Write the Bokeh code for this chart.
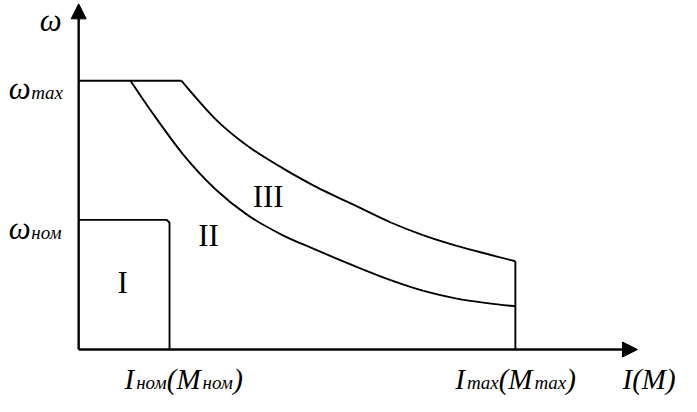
from bokeh.plotting import figure
from bokeh.models import Range1d, ColumnDataSource, Arrow, NormalHead, Label
from bokeh.embed import file_html
from bokeh.resources import INLINE

# ---- data (normalised units: I / I_nom, omega / omega_nom) ----
I_NOM = 1.0
W_NOM = 1.0
I_MAX = 4.806
W_MAX = 2.074
I_AXIS_END = 6.15
W_AXIS_END = 2.667

# zone II boundary
zone2_I = [0.570, 0.785, 1.151, 1.505, 1.860, 2.226, 2.581, 3.086, 3.441, 3.796, 4.161, 4.516, 4.806]
zone2_w = [2.074, 1.852, 1.504, 1.237, 1.037, 0.889, 0.778, 0.630, 0.533, 0.452, 0.393, 0.356, 0.333]
# zone III boundary
zone3_I = [1.129, 1.505, 1.860, 2.226, 2.581, 3.086, 3.441, 3.796, 4.161, 4.516, 4.806]
zone3_w = [2.074, 1.778, 1.570, 1.407, 1.267, 1.096, 0.978, 0.881, 0.800, 0.733, 0.681]

zone_labels = ["I", "II", "III"]
zone_label_I = [0.484, 1.430, 2.086]
zone_label_w = [0.519, 0.881, 1.178]

# ---- figure ----
W_PX, H_PX = 681, 396
SX, SY = 681 / 697, 0.960
PX_PER_I = 93.0 * SX
PX_PER_W = 135.0 * SY
x0 = -80.0 * SX / PX_PER_I
y1 = 349.0 / PX_PER_W
p = figure(width=W_PX, height=H_PX, output_backend="svg", toolbar_location=None,
           x_range=Range1d(x0, x0 + W_PX / PX_PER_I),
           y_range=Range1d(y1 - H_PX / PX_PER_W, y1),
           min_border=0, outline_line_color=None)
p.xaxis.visible = False
p.yaxis.visible = False
p.grid.visible = False
p.background_fill_color = "white"
p.border_fill_color = "white"

LW = 1.9
# axes with arrows
for xs, ys, xe, ye in [(0, 0, I_AXIS_END, 0), (0, 0, 0, W_AXIS_END)]:
    p.add_layout(Arrow(end=NormalHead(size=15, fill_color="black", line_color="black", line_width=1),
                       x_start=xs, y_start=ys, x_end=xe, y_end=ye,
                       line_width=2.4, line_color="black"))

# zone I box
p.line([0, I_NOM - 0.03, I_NOM, I_NOM], [W_NOM, W_NOM, W_NOM - 0.022, 0], line_color="black", line_width=LW)
# omega_max line
p.line([0, zone3_I[0]], [W_MAX, W_MAX], line_color="black", line_width=LW)
# I_max vertical
p.line([I_MAX, I_MAX], [0, zone3_w[-1]], line_color="black", line_width=LW)


# smooth curves through the read points (Catmull-Rom as cubic Bezier segments)
def smooth(xs, ys):
    n = len(xs)
    px = [xs[0]] + list(xs) + [xs[-1]]
    py = [ys[0]] + list(ys) + [ys[-1]]
    out = dict(x0=[], y0=[], x1=[], y1=[], cx0=[], cy0=[], cx1=[], cy1=[])
    for i in range(1, n):
        out["x0"].append(px[i]); out["y0"].append(py[i])
        out["x1"].append(px[i + 1]); out["y1"].append(py[i + 1])
        out["cx0"].append(px[i] + (px[i + 1] - px[i - 1]) / 6)
        out["cy0"].append(py[i] + (py[i + 1] - py[i - 1]) / 6)
        out["cx1"].append(px[i + 1] - (px[i + 2] - px[i]) / 6)
        out["cy1"].append(py[i + 1] - (py[i + 2] - py[i]) / 6)
    return ColumnDataSource(out)


for xs, ys in [(zone2_I, zone2_w), (zone3_I, zone3_w)]:
    p.bezier(x0="x0", y0="y0", x1="x1", y1="y1", cx0="cx0", cy0="cy0", cx1="cx1", cy1="cy1",
             source=smooth(xs, ys), line_color="black", line_width=LW)

# zone labels
for t, xi, yi in zip(zone_labels, zone_label_I, zone_label_w):
    p.add_layout(Label(x=xi, y=yi, text=t, text_font="Liberation Serif", text_font_size="31px",
                       text_align="center", text_baseline="middle", text_color="black"))

# ---- italic labels with subscripts ----
MAIN, SUB, OMEGA, DROP = 29, 19, 31, 4
WID = {"I": .333, "M": .833, "(": .333, ")": .333, "m": .722, "a": .5, "x": .444,
       "н": .5, "о": .5, "м": .611, "ω": .667}


def layout(x, y, dx, dy, segs):
    # dx, dy in screen pixels (dy positive = downwards)
    for txt, sub in segs:
        s = SUB if sub else (OMEGA if txt == "ω" else MAIN)
        p.add_layout(Label(x=x, y=y, text=txt, x_offset=dx, y_offset=-(dy + (DROP if sub else 0)),
                           text_font="Liberation Serif", text_font_style="italic",
                           text_font_size=f"{s}px", text_align="left",
                           text_baseline="alphabetic", text_color="black"))
        dx += sum(WID[c] for c in txt) * s + (2 if not sub and txt in ("I", "M", "(M", "ω") else 0)


layout(0, W_AXIS_END, -39, 17, [("ω", 0)])
layout(0, W_MAX, -70, 8, [("ω", 0), ("max", 1)])
layout(0, W_NOM, -70, 9, [("ω", 0), ("ном", 1)])
layout(I_NOM, 0, -45, 29, [("I", 0), ("ном", 1), ("(M", 0), ("ном", 1), (")", 0)])
layout(I_MAX, 0, -60, 29, [("I", 0), ("max", 1), ("(M", 0), ("max", 1), (")", 0)])
layout(I_AXIS_END, 0, -15, 29, [("I(M)", 0)])

open("out.html", "w").write(file_html(p, INLINE))
